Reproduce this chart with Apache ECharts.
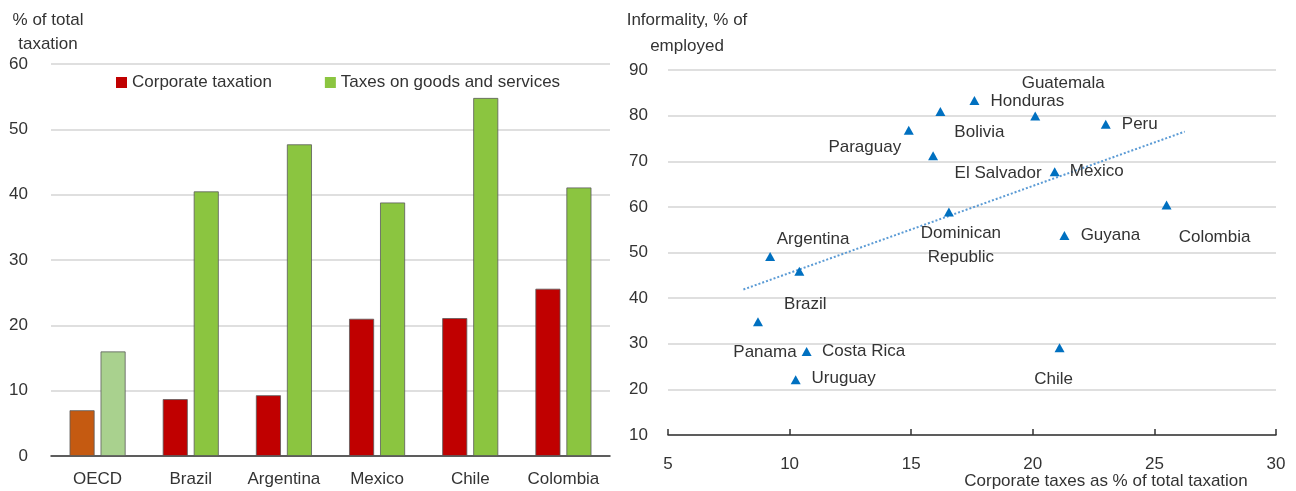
<!DOCTYPE html>
<html>
<head>
<meta charset="utf-8">
<script src="https://cdn.jsdelivr.net/npm/echarts@6/dist/echarts.min.js"></script>
<style>
  html, body { margin: 0; padding: 0; background: #fff; }
  #chart { width: 1296px; height: 491px; }
</style>
</head>
<body>
<div id="chart"></div>
<script>
(function() {

    // left panel: tax structure
    const categories = ['OECD', 'Brazil', 'Argentina', 'Mexico', 'Chile', 'Colombia'];
    const corporateTax = [7.0, 8.7, 9.3, 21.0, 21.1, 25.6];
    const goodsTax = [16.0, 40.5, 47.7, 38.8, 54.8, 41.1];

    // right panel: informality vs corporate taxes
    const countries = ['Honduras', 'Bolivia', 'Guatemala', 'Peru', 'Paraguay', 'El Salvador', 'Mexico',
        'Dominican\nRepublic', 'Colombia', 'Guyana', 'Argentina', 'Brazil', 'Panama', 'Costa Rica', 'Uruguay', 'Chile'];
    const corpShare = [17.6, 16.2, 20.1, 23.0, 14.9, 15.9, 20.9, 16.55, 25.5, 21.3, 9.2, 10.4, 8.7, 10.7, 10.25, 21.1];
    const informality = [83.3, 80.9, 79.9, 78.1, 76.8, 71.2, 67.7, 58.9, 60.4, 53.7, 49.1, 45.9, 34.8, 28.3, 22.1, 29.1];
    const trendX = [8.1, 26.25];
    const trendY = [41.9, 76.5];

    // label offsets (px) from each marker
    const labelOffsets = {
        'Honduras': [53, 1], 'Bolivia': [39, 21], 'Guatemala': [28, -33], 'Peru': [34, 0],
        'Paraguay': [-44, 17], 'El Salvador': [65, 18], 'Mexico': [42, 0], 'Dominican\nRepublic': [12, 33],
        'Colombia': [48, 32], 'Guyana': [46, 0], 'Argentina': [43, -17], 'Brazil': [6, 33],
        'Panama': [7, 30], 'Costa Rica': [57, 0], 'Uruguay': [48, -1], 'Chile': [-6, 31]
    };

    const font = "'Liberation Sans', Arial, sans-serif";
    const textColor = '#333';
    const gridColor = '#d4d4d4';

    const chart = echarts.init(document.getElementById('chart'));

    const corpData = corporateTax.map((v, i) => i === 0 ? { value: v, itemStyle: { color: '#C55A11' } } : v);
    const goodsData = goodsTax.map((v, i) => i === 0 ? { value: v, itemStyle: { color: '#A9D18E' } } : v);

    const scatterData = countries.map((name, i) => ({
        name: name,
        value: [corpShare[i], informality[i]],
        label: { offset: labelOffsets[name] }
    }));

    const trendData = trendX.map((x, i) => [x, trendY[i]]);

    // axis titles drawn as plain text so they sit where the original has them
    function axisTitle(text, x, y, lineHeight) {
        return {
            type: 'text',
            x: x,
            y: y,
            style: {
                text: text,
                fill: textColor,
                font: '17px ' + font,
                lineHeight: lineHeight,
                textAlign: 'center',
                textVerticalAlign: 'top'
            }
        };
    }

    let option = {
        animation: false,
        textStyle: { fontFamily: font },
        graphic: [
            axisTitle('% of total\ntaxation', 48, 8, 24),
            axisTitle('Informality, % of\nemployed', 687, 7, 26),
            axisTitle('Corporate taxes as % of total taxation', 1106, 471, 20)
        ],
        legend: {
            data: ['Corporate taxation', 'Taxes on goods and services'],
            left: 116,
            top: 74,
            padding: 0,
            icon: 'rect',
            itemWidth: 11,
            itemHeight: 11,
            itemGap: 53,
            itemStyle: { borderWidth: 0 },
            textStyle: { fontSize: 17, color: textColor, fontFamily: font }
        },
        grid: [
            { left: 51, top: 64, width: 559, height: 392, outerBoundsMode: 'none' },
            { left: 668, top: 70, width: 608, height: 365, outerBoundsMode: 'none' }
        ],
        xAxis: [
            {
                gridIndex: 0,
                type: 'category',
                data: categories,
                axisLine: { lineStyle: { color: '#333', width: 1.5 } },
                axisTick: { inside: true, length: 6, lineStyle: { color: '#333', width: 1.5 } },
                axisLabel: { interval: 0, fontSize: 17, color: textColor, margin: 15, fontFamily: font }
            },
            {
                gridIndex: 1,
                type: 'value',
                min: 5,
                max: 30,
                interval: 5,
                splitLine: { show: false },
                axisLine: { lineStyle: { color: '#333', width: 1.5 } },
                axisTick: { show: true, inside: true, length: 6, lineStyle: { color: '#333', width: 1.5 } },
                axisLabel: { fontSize: 17, color: textColor, margin: 21, fontFamily: font }
            }
        ],
        yAxis: [
            {
                gridIndex: 0,
                type: 'value',
                min: 0,
                max: 60,
                interval: 10,
                axisLine: { show: false },
                axisTick: { show: false },
                splitLine: { lineStyle: { color: gridColor, width: 1.5 } },
                axisLabel: { fontSize: 17, color: textColor, margin: 23, fontFamily: font }
            },
            {
                gridIndex: 1,
                type: 'value',
                min: 10,
                max: 90,
                interval: 10,
                axisLine: { show: false },
                axisTick: { show: false },
                splitLine: { lineStyle: { color: gridColor, width: 1.5 } },
                axisLabel: { fontSize: 17, color: textColor, margin: 20, fontFamily: font }
            }
        ],
        series: [
            {
                name: 'Corporate taxation',
                type: 'bar',
                xAxisIndex: 0,
                yAxisIndex: 0,
                barWidth: 25,
                barGap: '24%',
                itemStyle: { color: '#C00000', borderColor: '#5a5a5a', borderWidth: 0.8 },
                data: corpData
            },
            {
                name: 'Taxes on goods and services',
                type: 'bar',
                xAxisIndex: 0,
                yAxisIndex: 0,
                barWidth: 25,
                itemStyle: { color: '#8BC540', borderColor: '#5a5a5a', borderWidth: 0.8 },
                data: goodsData
            },
            {
                name: 'trend',
                type: 'line',
                xAxisIndex: 1,
                yAxisIndex: 1,
                symbol: 'none',
                lineStyle: { color: '#5B9BD5', width: 2, type: [2, 2] },
                data: trendData,
                z: 1
            },
            {
                name: 'countries',
                type: 'scatter',
                xAxisIndex: 1,
                yAxisIndex: 1,
                symbol: 'triangle',
                symbolSize: [10, 9],
                itemStyle: { color: '#0070C0', opacity: 1 },
                label: {
                    show: true,
                    position: 'inside',
                    align: 'center',
                    verticalAlign: 'middle',
                    formatter: '{b}',
                    fontSize: 17,
                    lineHeight: 24,
                    color: textColor,
                    fontFamily: font
                },
                data: scatterData,
                z: 3
            }
        ]
    };

    chart.setOption(option);
})();
</script>
</body>
</html>
